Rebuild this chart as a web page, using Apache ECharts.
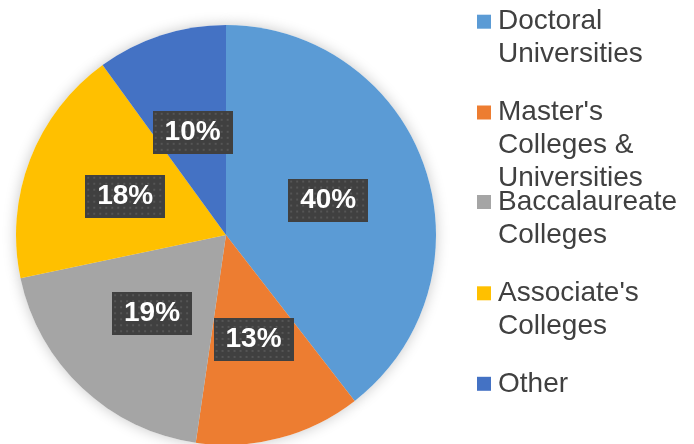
<!DOCTYPE html>
<html>
<head>
<meta charset="utf-8">
<script src="https://cdn.jsdelivr.net/npm/echarts@6/dist/echarts.min.js"></script>
<style>
  html, body { margin: 0; padding: 0; background: #fff; }
  #chart { width: 694px; height: 444px; }
</style>
</head>
<body>
<div id="chart"></div>
<script>
const categories = ['Doctoral Universities', "Master's Colleges & Universities", 'Baccalaureate Colleges', "Associate's Colleges", 'Other']
const legendLines = [['Doctoral', 'Universities'], ["Master's", 'Colleges &', 'Universities'], ['Baccalaureate', 'Colleges'], ["Associate's", 'Colleges'], ['Other']]
const shares = [39.5, 12.8, 19.4, 18.3, 10]
const colors = ['#5b9bd5', '#ed7d31', '#a5a5a5', '#ffc000', '#4472c4']

// legend marker centres (px from top)
const markerY = [21.7, 112.5, 202, 293.3, 383.8]
const LH = 33

// dotted dark texture for the data labels
const tex = document.createElement('canvas')
tex.width = 80
tex.height = 43
const tc = tex.getContext('2d')
tc.fillStyle = '#404040'
tc.fillRect(0, 0, 80, 43)
tc.fillStyle = '#555555'
for (let y = 2; y < 43; y += 6) {
  for (let x = 2; x < 80; x += 6) tc.fillRect(x, y, 2, 2)
}

const chart = echarts.init(document.getElementById('chart'))

const pieData = categories.map((name, i) => ({
  name,
  value: shares[i],
  itemStyle: { color: colors[i] }
}))

// one legend per item so the marker sits on the first text line
const legends = categories.map((name, i) => {
  const n = legendLines[i].length
  const pad = new Array(n - 1).fill(' ')
  return {
    data: [name],
    orient: 'vertical',
    left: 477,
    top: markerY[i] - (2 * n - 1) * LH / 2,
    padding: 0,
    itemWidth: 14,
    itemHeight: 14,
    icon: 'rect',
    selectedMode: false,
    formatter: () => pad.concat(legendLines[i]).join('\n'),
    textStyle: {
      fontFamily: 'Liberation Sans',
      fontSize: 28,
      lineHeight: LH,
      color: '#404040',
      padding: [0, 0, 0, 2]
    }
  }
})

chart.setOption({
  backgroundColor: '#ffffff',
  animation: false,
  legend: legends,
  series: [
    {
      // soft glow under the pie
      type: 'pie',
      center: [226, 235],
      radius: 210,
      silent: true,
      z: 1,
      label: { show: false },
      labelLine: { show: false },
      itemStyle: { color: '#ffffff', shadowBlur: 14, shadowColor: 'rgba(0,0,0,0.22)' },
      data: categories.map((name, i) => ({ name: name + ' ', value: shares[i] }))
    },
    {
      type: 'pie',
      center: [226, 235],
      radius: 210,
      startAngle: 90,
      clockwise: true,
      z: 2,
      data: pieData,
      itemStyle: { borderWidth: 0 },
      labelLine: { show: false },
      label: {
        show: true,
        position: 'inside',
        formatter: p => Math.round(p.percent) + '%',
        fontFamily: 'Liberation Sans',
        fontWeight: 'bold',
        fontSize: 28,
        lineHeight: 31,
        color: '#ffffff',
        width: 56,
        overflow: 'none',
        align: 'center',
        padding: [6, 12],
        backgroundColor: { image: tex },
        shadowColor: 'rgba(0,0,0,0.55)',
        shadowBlur: 6,
        shadowOffsetX: 3,
        shadowOffsetY: 3
      },
      emphasis: { disabled: true }
    }
  ]
})
</script>
</body>
</html>
